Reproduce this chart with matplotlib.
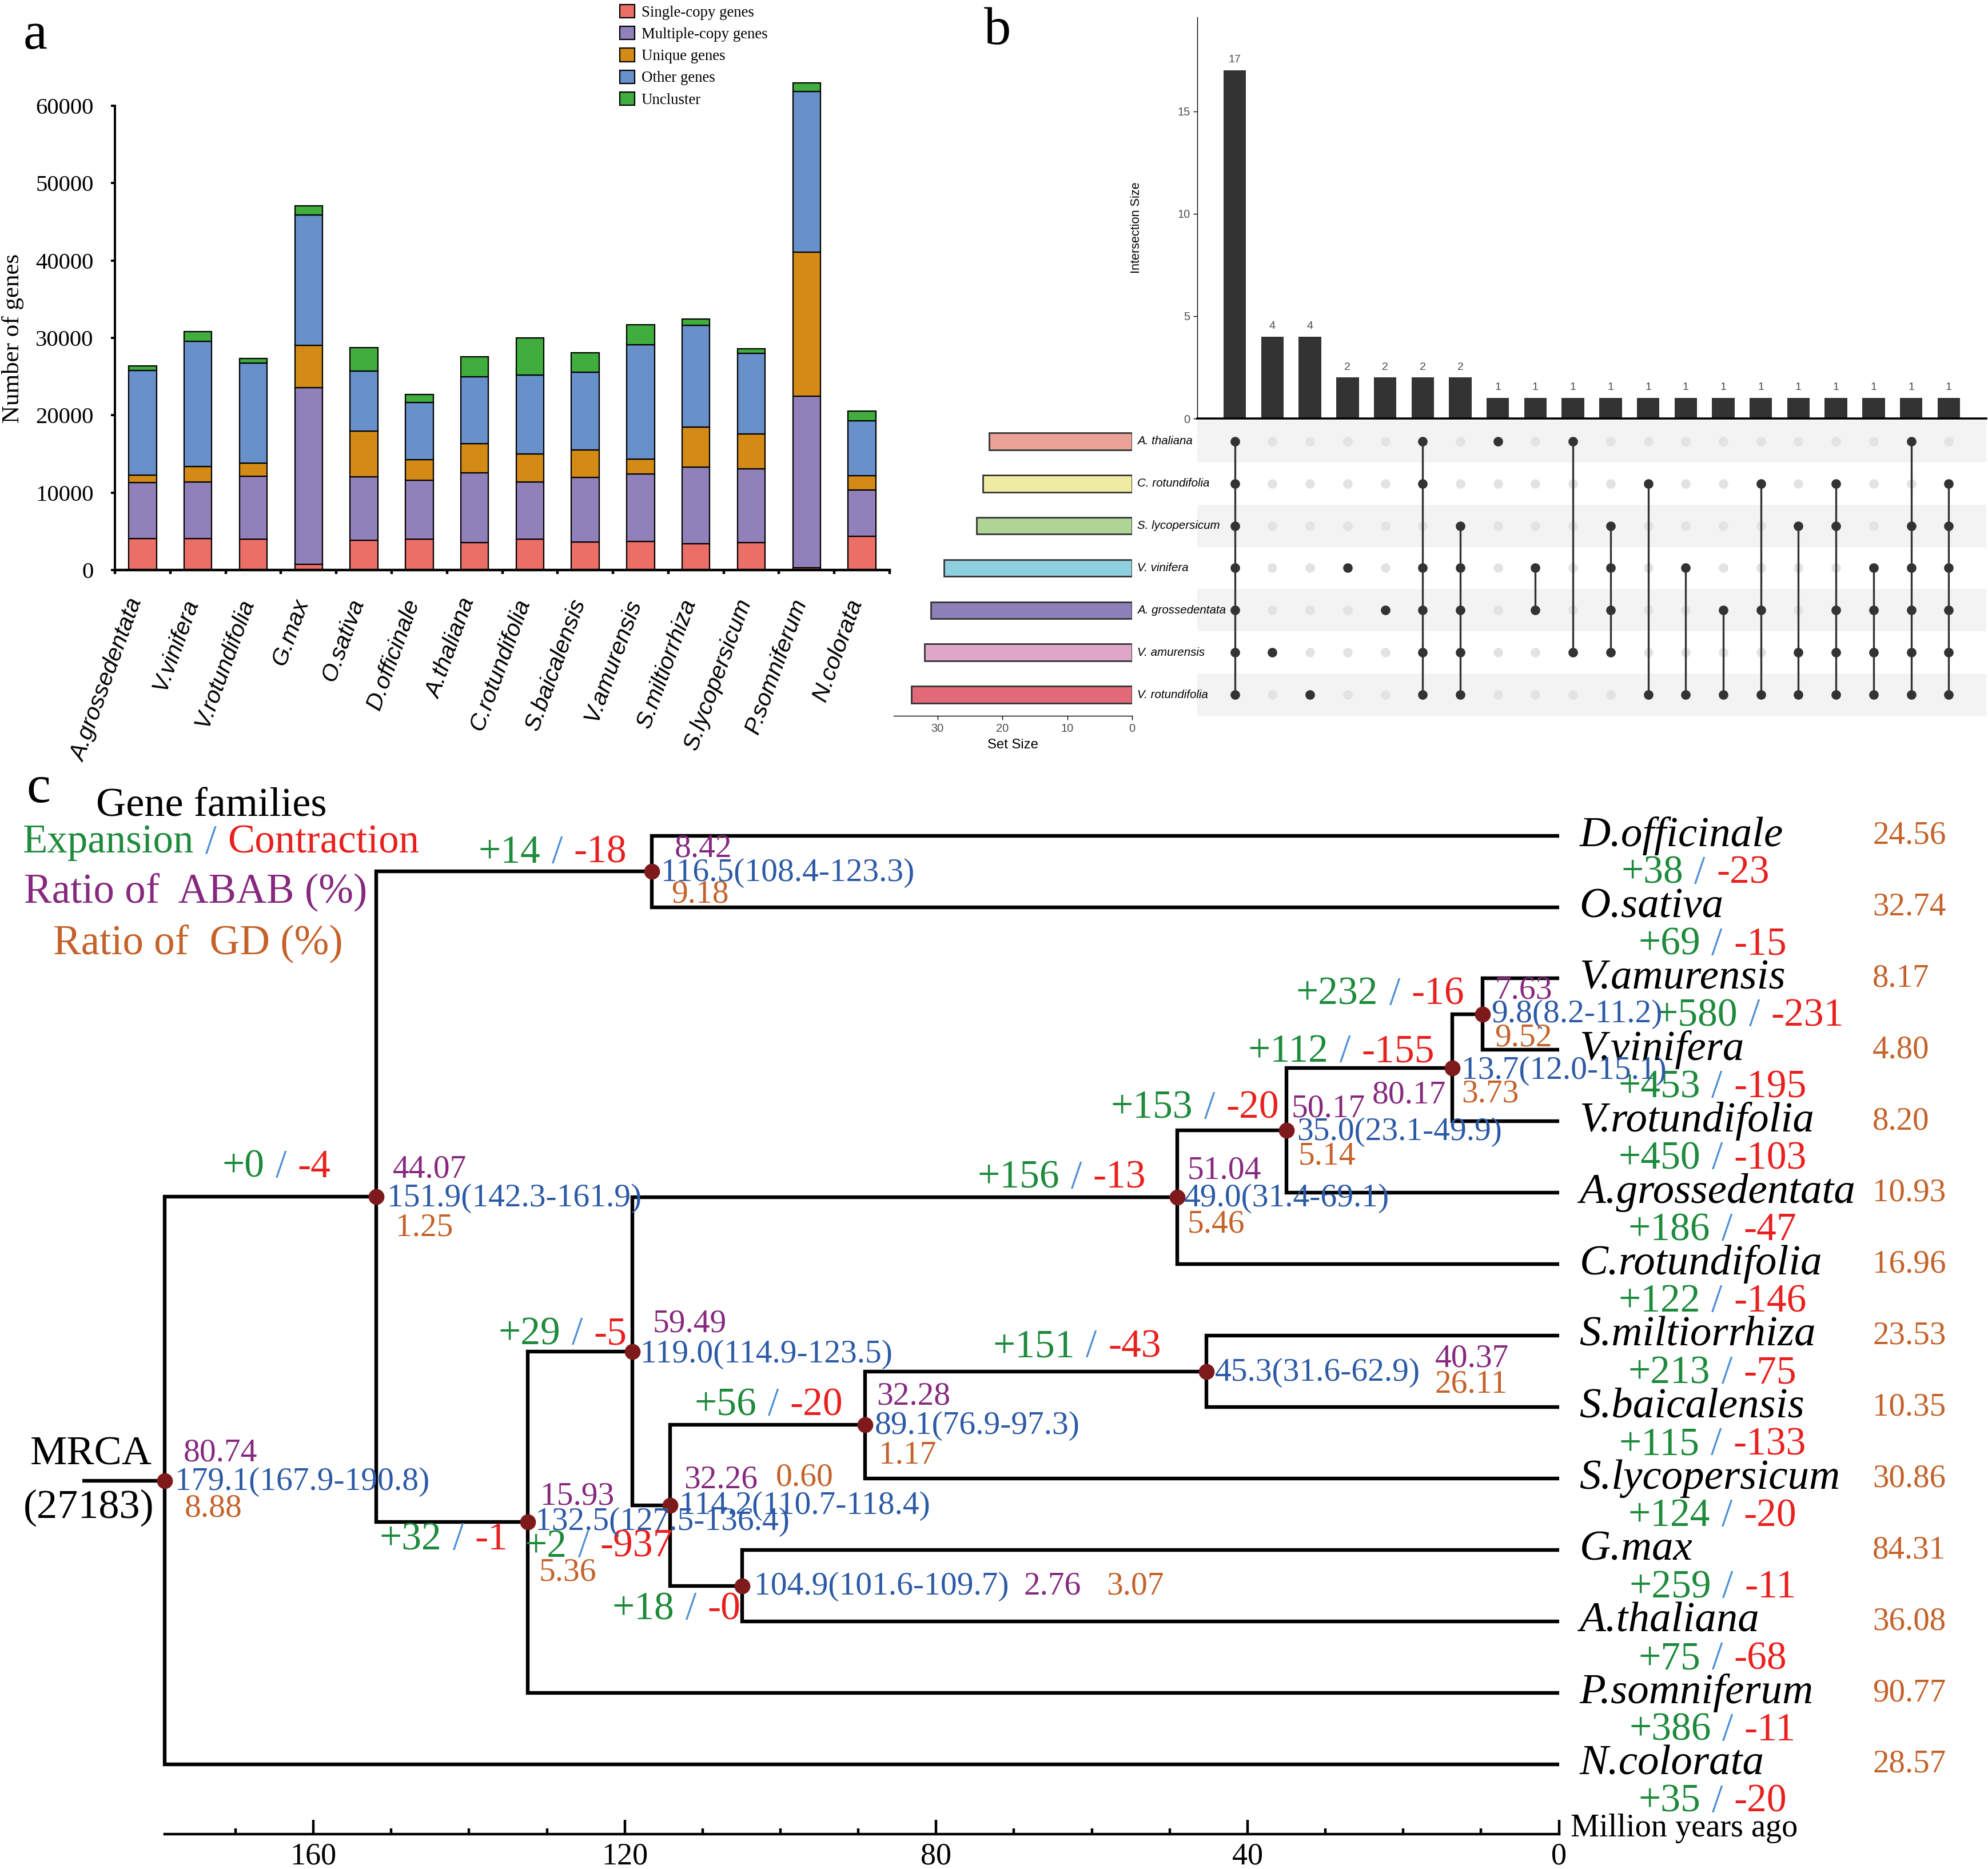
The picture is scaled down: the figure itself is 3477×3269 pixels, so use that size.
import numpy as np
import matplotlib
matplotlib.use('Agg')
import matplotlib.pyplot as plt
from matplotlib.offsetbox import TextArea, HPacker, AnnotationBbox
from matplotlib.ticker import FixedLocator

# ---------------- data ----------------
# panel a: gene counts per species
species_a = ['A.grossedentata', 'V.vinifera', 'V.rotundifolia', 'G.max', 'O.sativa',
             'D.officinale', 'A.thaliana', 'C.rotundifolia', 'S.baicalensis', 'V.amurensis',
             'S.miltiorrhiza', 'S.lycopersicum', 'P.somniferum', 'N.colorata']
single_copy = [4070, 4070, 4000, 760, 3820, 4000, 3560, 4000, 3630, 3690, 3370, 3560, 320, 4390]
multi_copy = [7250, 7320, 8150, 22840, 8200, 7640, 8970, 7390, 8330, 8710, 9930, 9540, 22140, 5920]
unique_genes = [960, 1970, 1650, 5470, 5920, 2610, 3820, 3620, 3560, 1910, 5210, 4460, 18630, 1900]
other_genes = [13480, 16220, 12920, 16800, 7760, 7440, 8650, 10180, 10050, 14820, 13110, 10430, 20740, 7060]
uncluster = [640, 1270, 630, 1200, 3050, 1020, 2600, 4840, 2550, 2610, 820, 640, 1150, 1280]
series_names = ['Single-copy genes', 'Multiple-copy genes', 'Unique genes', 'Other genes', 'Uncluster']

# panel b: upset plot
set_names = ['A. thaliana', 'C. rotundifolia', 'S. lycopersicum', 'V. vinifera',
             'A. grossedentata', 'V. amurensis', 'V. rotundifolia']
set_sizes = [22, 23, 24, 29, 31, 32, 34]
inter_sizes = [17, 4, 4, 2, 2, 2, 2, 1, 1, 1, 1, 1, 1, 1, 1, 1, 1, 1, 1, 1]
inter_members = [
    [0, 1, 2, 3, 4, 5, 6], [5], [6], [3], [4], [0, 1, 3, 4, 5, 6], [2, 3, 4, 5, 6],
    [0], [3, 4], [0, 5], [2, 3, 4, 5], [1, 6], [3, 6], [4, 6], [1, 4, 6], [2, 5, 6],
    [1, 2, 4, 5, 6], [3, 4, 5, 6], [0, 2, 3, 4, 5, 6], [1, 2, 3, 4, 5, 6],
]

# panel c: time tree
tips = ['D.officinale', 'O.sativa', 'V.amurensis', 'V.vinifera', 'V.rotundifolia',
        'A.grossedentata', 'C.rotundifolia', 'S.miltiorrhiza', 'S.baicalensis',
        'S.lycopersicum', 'G.max', 'A.thaliana', 'P.somniferum', 'N.colorata']
tip_gain = [38, 69, 580, 453, 450, 186, 122, 213, 115, 124, 259, 75, 386, 35]
tip_loss = [23, 15, 231, 195, 103, 47, 146, 75, 133, 20, 11, 68, 11, 20]
tip_gd = ['24.56', '32.74', '8.17', '4.80', '8.20', '10.93', '16.96', '23.53',
          '10.35', '30.86', '84.31', '36.08', '90.77', '28.57']

node_names = ['M', 'L', 'J', 'G', 'K', 'H', 'I', 'F', 'E', 'D', 'B', 'A', 'root']
node_children = [['V.amurensis', 'V.vinifera'], ['M', 'V.rotundifolia'],
                 ['L', 'A.grossedentata'], ['J', 'C.rotundifolia'],
                 ['S.miltiorrhiza', 'S.baicalensis'], ['K', 'S.lycopersicum'],
                 ['G.max', 'A.thaliana'], ['H', 'I'], ['G', 'F'], ['E', 'P.somniferum'],
                 ['D.officinale', 'O.sativa'], ['B', 'D'], ['A', 'N.colorata']]
node_age = [9.8, 13.7, 35.0, 49.0, 45.3, 89.1, 104.9, 114.2, 119.0, 132.5, 116.5, 151.9, 179.1]
node_ci = ['8.2-11.2', '12.0-15.1', '23.1-49.9', '31.4-69.1', '31.6-62.9', '76.9-97.3',
           '101.6-109.7', '110.7-118.4', '114.9-123.5', '127.5-136.4', '108.4-123.3',
           '142.3-161.9', '167.9-190.8']
node_abab = ['7.63', '80.17', '50.17', '51.04', '40.37', '32.28', '2.76', '32.26', '59.49',
             '15.93', '8.42', '44.07', '80.74']
node_gd = ['9.52', '3.73', '5.14', '5.46', '26.11', '1.17', '3.07', '0.60', None,
           '5.36', '9.18', '1.25', '8.88']
node_gain = [232, 112, 153, 156, 151, 56, 18, 2, 29, 32, 14, 0, None]
node_loss = [16, 155, 20, 13, 43, 20, 0, 937, 5, 1, 18, 4, None]
mrca_families = 27183

# ---------------- layout / style ----------------
W, H, DPI = 3477, 3269, 200
PT = DPI / 72.0
SERIF = 'Liberation Serif'
SANS = 'Liberation Sans'
plt.rcParams['font.family'] = [SERIF, 'DejaVu Serif']

GREEN = '#1E8A3C'
RED = '#E8211F'
SLASH = '#4A8FD6'
PURPLE = '#86297E'
BLUE = '#2C5AA6'
ORANGE = '#C4622A'
NODE = '#7E1A1C'

fig = plt.figure(figsize=(W / DPI, H / DPI), dpi=DPI)


def box(l, t, r, b):
    return [l / W, 1 - b / H, (r - l) / W, (b - t) / H]


# ================= panel a =================
bar_colors = ['#EC6F67', '#9181BB', '#D38B15', '#6890CB', '#40AD3C']
ax_a = fig.add_axes(box(201, 117.5, 1556, 997))
xa = np.arange(len(species_a))
bottom = np.zeros(len(xa))
for vals, col, name in zip([single_copy, multi_copy, unique_genes, other_genes, uncluster],
                           bar_colors, series_names):
    ax_a.bar(xa, vals, 0.5, bottom=bottom, color=col, edgecolor='black',
             linewidth=0.8, label=name, zorder=2)
    bottom += np.array(vals)
ax_a.set_xlim(-0.5, 13.5)
ax_a.set_ylim(0, 65000)
for s in ['top', 'right']:
    ax_a.spines[s].set_visible(False)
ax_a.spines['left'].set_bounds(0, 60000)
ax_a.spines['left'].set_linewidth(1.4)
ax_a.spines['bottom'].set_linewidth(1.6)
ax_a.set_yticks(range(0, 60001, 10000))
ax_a.tick_params(axis='y', length=2.5, width=1.4, pad=11, labelsize=14.7,
                 labelfontfamily=SERIF)
ax_a.set_xticks(xa)
ax_a.set_xticklabels(species_a, rotation=70, ha='right', va='baseline', rotation_mode='anchor',
                     fontfamily=SANS, fontstyle='italic', fontsize=14.8)
ax_a.tick_params(axis='x', which='major', length=0, pad=20)
ax_a.set_xticks(np.arange(-0.5, 14, 1), minor=True)
ax_a.tick_params(axis='x', which='minor', length=2.5, width=1.6)
ax_a.set_ylabel('Number of genes', fontfamily=SERIF, fontsize=15.5)
ax_a.yaxis.set_label_coords(-0.117, 0.46)
leg = ax_a.legend(loc='upper left', bbox_to_anchor=(1084 / W, 1 - 8 / H),
                  bbox_transform=fig.transFigure, frameon=False,
                  prop={'family': SERIF, 'size': 9.7}, handlelength=0.95, handleheight=0.95,
                  handletextpad=0.45, labelspacing=0.42, borderpad=0, borderaxespad=0)
fig.text(62 / W, 1 - 62 / H, 'a', fontfamily=SERIF, fontsize=34, ha='center', va='center')

# ================= panel b =================
set_colors = ['#EBA398', '#EFEBA0', '#AED596', '#8FD0E0', '#8D80B8', '#DEA7C9', '#E06A77']
GREYTXT = '#4D4D4D'
ax_b = fig.add_axes(box(2094, 30, 3474, 732))
xb = np.arange(len(inter_sizes))
ax_b.bar(xb, inter_sizes, 0.6, color='#333333')
for xi, v in zip(xb, inter_sizes):
    ax_b.annotate(str(v), (xi, v), xytext=(0, 3.5), textcoords='offset points',
                  ha='center', va='bottom', fontsize=7, fontfamily=SANS, color=GREYTXT)
ax_b.set_xlim(-1, 20)
ax_b.set_ylim(0, 19.6)
for s in ['top', 'right']:
    ax_b.spines[s].set_visible(False)
ax_b.spines['left'].set_linewidth(0.5)
ax_b.spines['bottom'].set_linewidth(1.3)
ax_b.set_xticks([])
ax_b.set_yticks([0, 5, 10, 15])
ax_b.tick_params(axis='y', length=2.5, width=0.5, pad=2, labelsize=7.2,
                 labelcolor=GREYTXT, labelfontfamily=SANS)
ax_b.set_ylabel('Intersection Size', fontfamily=SANS, fontsize=7.8)
ax_b.yaxis.set_label_coords(-0.0696, 0.476)

ax_m = fig.add_axes(box(2094, 735, 3474, 1252))
ax_m.set_xlim(-1, 20)
ax_m.set_ylim(6.5, -0.5)
ax_m.axis('off')
for r in range(0, len(set_names), 2):
    ax_m.axhspan(r - 0.5, r + 0.5, color='#F3F3F3', zorder=0, lw=0)
gx, gy = np.meshgrid(xb, np.arange(len(set_names)))
ax_m.scatter(gx.ravel(), gy.ravel(), s=36, color='#E3E3E3', zorder=1, lw=0)
for j, mem in enumerate(inter_members):
    if len(mem) > 1:
        ax_m.plot([j, j], [min(mem), max(mem)], color='#333333', lw=1.2, zorder=2)
    ax_m.scatter([j] * len(mem), mem, s=36, color='#333333', zorder=3, lw=0)
for r, name in enumerate(set_names):
    ax_m.text(-2.6, r, name, ha='left', va='center', fontfamily=SANS, fontstyle='italic',
              fontsize=7.4, color='black', clip_on=False)

ax_s = fig.add_axes(box(1563, 735, 1980, 1252))
ax_s.barh(np.arange(len(set_names)), set_sizes, 0.4, color=set_colors,
          edgecolor='#333333', linewidth=1.0)
ax_s.set_xlim(36.75, 0)
ax_s.set_ylim(6.5, -0.5)
for s in ['top', 'right', 'left']:
    ax_s.spines[s].set_visible(False)
ax_s.spines['bottom'].set_linewidth(0.5)
ax_s.set_yticks([])
ax_s.set_xticks([0, 10, 20, 30])
ax_s.tick_params(axis='x', length=2.5, width=0.5, pad=2, labelsize=7.2,
                 labelcolor=GREYTXT, labelfontfamily=SANS)
ax_s.set_xlabel('Set Size', fontfamily=SANS, fontsize=8.6, labelpad=3)
fig.text(1745 / W, 1 - 55 / H, 'b', fontfamily=SERIF, fontsize=34, ha='center', va='center')

# ================= panel c =================
PX_MY = 13.615
X0 = 2726.5
Y0, DY = 1461.6, 124.95
ax_c = fig.add_axes([0, 0, 1, 1])
ax_c.set_facecolor('none')
ax_c.set_xlim(X0 / PX_MY, (X0 - W) / PX_MY)
ax_c.set_ylim((H - Y0) / DY, -Y0 / DY)
ax_c.axis('off')

pos = {}
for i, t in enumerate(tips):
    pos[t] = (0.0, float(i))
for name, ch, age in zip(node_names, node_children, node_age):
    ys = [pos[c][1] for c in ch]
    pos[name] = (age, (min(ys) + max(ys)) / 2)

for name, ch in zip(node_names, node_children):
    px_, py_ = pos[name]
    for c in ch:
        cx, cy = pos[c]
        ax_c.plot([px_, px_, cx], [py_, cy, cy], color='black', lw=2.3,
                  solid_joinstyle='miter', solid_capstyle='butt', zorder=2)
rx, ry = pos['root']
ax_c.plot([rx + 10.6, rx], [ry, ry], color='black', lw=2.3, solid_capstyle='butt', zorder=2)
ax_c.scatter([pos[n][0] for n in node_names], [pos[n][1] for n in node_names],
             s=100, color=NODE, zorder=5, lw=0)


def gain_loss(xy, gain, loss, size, align, offset=(0, 0)):
    parts = [TextArea('+%d' % gain, textprops=dict(color=GREEN, fontsize=size, fontfamily=SERIF)),
             TextArea('/', textprops=dict(color=SLASH, fontsize=size, fontfamily=SERIF)),
             TextArea('-%d' % loss, textprops=dict(color=RED, fontsize=size, fontfamily=SERIF))]
    pack = HPacker(children=parts, align='baseline', pad=0, sep=size * 0.28)
    ab = AnnotationBbox(pack, xy, xybox=offset, boxcoords='offset points',
                        box_alignment=align, frameon=False, pad=0, zorder=6)
    ax_c.add_artist(ab)


# tip labels; per-tip horizontal shift (px) of the gain/loss line
tip_gl_shift = {'D.officinale': -30, 'V.amurensis': 65}
for i, t in enumerate(tips):
    ax_c.annotate(t, (0, i), xytext=(36 / PT, 0), textcoords='offset points',
                  ha='left', va='center', fontfamily=SERIF, fontstyle='italic', fontsize=27)
    ax_c.text((X0 - 3275) / PX_MY, i, tip_gd[i], ha='left', va='center',
              fontfamily=SERIF, fontsize=20.5, color=ORANGE)
    gx_px = 2995 + tip_gl_shift.get(t, 0)
    gain_loss(((X0 - gx_px) / PX_MY, i + 0.53), tip_gain[i], tip_loss[i], 25, (0.5, 0.5))

# per-node label placement, pixel offsets from the node: abab, age, gd, gain/loss
lab_off = {
    'M': [(21, -41), (15, 0), (21, 42), (-32, -34)],
    'L': [(-11, 48), (16, 5), (16, 46), (-31, -27)],
    'J': [(9, -38), (18, 3), (21, 45), (-13, -38)],
    'G': [(17, -47), (12, 2), (17, 47), (-55, -33)],
    'K': [(400, -22), (15, 2), (400, 23), (-79, -42)],
    'H': [(20, -50), (16, 2), (24, 53), (-39, -34)],
    'I': [(492, 1), (21, 1), (637, 1), (-3, 42)],
    'F': [(24, -45), (16, 1), (185, -49), (5, 73)],
    'E': [(35, -48), (14, 5), None, (-10, -29)],
    'D': [(22, -45), (13, 0), (20, 88), (-34, 31)],
    'B': [(39, -40), (16, 3), (34, 40), (-44, -32)],
    'A': [(28, -48), (19, 3), (34, 54), (-80, -51)],
    'root': [(33, -48), (18, 2), (35, 49), None],
}
NSIZE = 20.7
for k, name in enumerate(node_names):
    xy = pos[name]
    a_off, t_off, g_off, gl_off = lab_off[name]
    ha_a = 'right' if name == 'L' else 'left'
    ax_c.annotate(node_abab[k], xy, xytext=(a_off[0] / PT, -a_off[1] / PT),
                  textcoords='offset points', ha=ha_a, va='center', color=PURPLE,
                  fontfamily=SERIF, fontsize=NSIZE, zorder=6)
    ax_c.annotate('%.1f(%s)' % (node_age[k], node_ci[k]), xy,
                  xytext=(t_off[0] / PT, -t_off[1] / PT), textcoords='offset points',
                  ha='left', va='center', color=BLUE, fontfamily=SERIF, fontsize=NSIZE, zorder=6)
    if node_gd[k] is not None:
        ax_c.annotate(node_gd[k], xy, xytext=(g_off[0] / PT, -g_off[1] / PT),
                      textcoords='offset points', ha='left', va='center', color=ORANGE,
                      fontfamily=SERIF, fontsize=NSIZE, zorder=6)
    if node_gain[k] is not None:
        gain_loss(xy, node_gain[k], node_loss[k], 25, (1, 0.5),
                  offset=(gl_off[0] / PT, -gl_off[1] / PT))

ax_c.annotate('MRCA', (rx, ry), xytext=(-22 / PT, 46 / PT), textcoords='offset points',
              ha='right', va='center', fontfamily=SERIF, fontsize=26)
ax_c.annotate('(%d)' % mrca_families, (rx, ry), xytext=(-19 / PT, -48 / PT),
              textcoords='offset points', ha='right', va='center', fontfamily=SERIF, fontsize=26)

# header legend of panel c
fig.text(168 / W, 1 - 1410 / H, 'Gene families', fontfamily=SERIF, fontsize=26,
         ha='left', va='center')
hdr = HPacker(children=[TextArea('Expansion', textprops=dict(color=GREEN, fontsize=25.5, fontfamily=SERIF)),
                        TextArea('/', textprops=dict(color=SLASH, fontsize=25.5, fontfamily=SERIF)),
                        TextArea('Contraction', textprops=dict(color=RED, fontsize=25.5, fontfamily=SERIF))],
              align='baseline', pad=0, sep=7)
fig.add_artist(AnnotationBbox(hdr, (40 / W, 1 - 1474 / H), xycoords='figure fraction',
                              box_alignment=(0, 0.5), frameon=False, pad=0))
fig.text(42 / W, 1 - 1560 / H, 'Ratio of  ABAB (%)', fontfamily=SERIF, fontsize=26.3,
         color=PURPLE, ha='left', va='center')
fig.text(93 / W, 1 - 1650 / H, 'Ratio of  GD (%)', fontfamily=SERIF, fontsize=26.3,
         color=ORANGE, ha='left', va='center')
fig.text(67 / W, 1 - 1380 / H, 'c', fontfamily=SERIF, fontsize=34, ha='center', va='center')

# time axis
ax_t = fig.add_axes(box(0, 3100, W, 3208))
ax_t.set_facecolor('none')
ax_t.set_xlim(X0 / PX_MY, (X0 - W) / PX_MY)
for s in ['top', 'right', 'left']:
    ax_t.spines[s].set_visible(False)
ax_t.spines['bottom'].set_bounds(0, node_age[-1])
ax_t.spines['bottom'].set_linewidth(1.6)
ax_t.set_yticks([])
ax_t.xaxis.set_major_locator(FixedLocator([0, 40, 80, 120, 160]))
ax_t.xaxis.set_minor_locator(FixedLocator([v for v in range(10, 180, 10) if v % 40]))
ax_t.tick_params(axis='x', which='major', direction='in', length=9, width=1.6, pad=5,
                 labelsize=19.5, labelfontfamily=SERIF)
ax_t.tick_params(axis='x', which='minor', direction='in', length=3.6, width=1.6)
fig.text(2747 / W, 1 - 3198 / H, 'Million years ago', fontfamily=SERIF, fontsize=20.3,
         ha='left', va='center')

fig.savefig('out.png', dpi=DPI)
